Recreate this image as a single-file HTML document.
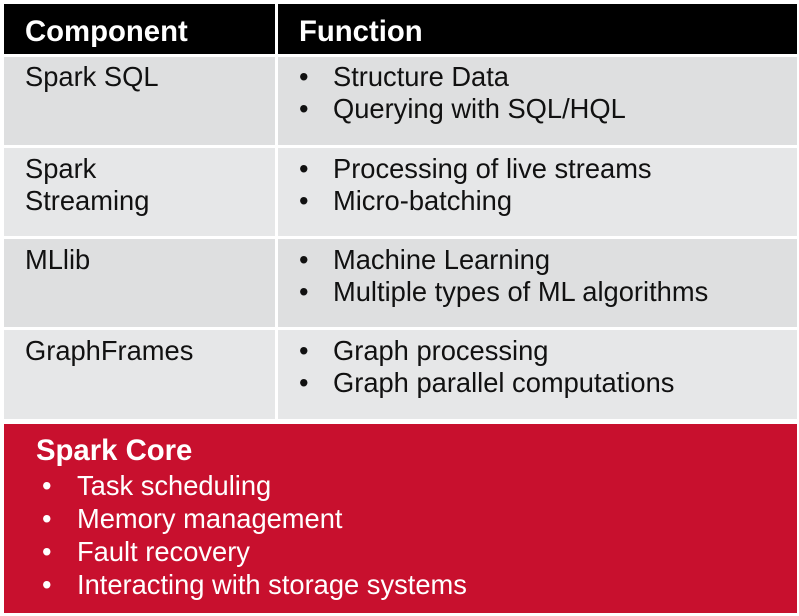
<!DOCTYPE html>
<html><head><style>
body{margin:0;width:799px;height:616px;background:#fff;position:relative;overflow:hidden;font-family:"Liberation Sans",Arial,sans-serif;}
.b{position:absolute;}
.h{background:#000;color:#fff;font-weight:bold;font-size:29.3px;line-height:50px;}
.g{background:#dedfe0;}
.t{position:absolute;font-size:27.3px;color:#111;line-height:32px;white-space:nowrap;}
.w{color:#fff;}
</style></head><body>
<div class="b h" style="left:4px;top:4px;width:271px;height:50px;"><span style="position:absolute;left:21px;top:3px">Component</span></div>
<div class="b h" style="left:278px;top:4px;width:519px;height:50px;"><span style="position:absolute;left:21px;top:3px">Function</span></div>

<div class="b g" style="left:4px;top:57px;width:271px;height:88px"></div>
<div class="b g" style="left:278px;top:57px;width:519px;height:88px"></div>
<div class="b g" style="left:4px;top:148px;width:271px;height:88px;background:#e6e7e8"></div>
<div class="b g" style="left:278px;top:148px;width:519px;height:88px;background:#e6e7e8"></div>
<div class="b g" style="left:4px;top:239px;width:271px;height:88px"></div>
<div class="b g" style="left:278px;top:239px;width:519px;height:88px"></div>
<div class="b g" style="left:4px;top:330px;width:271px;height:89px;background:#e6e7e8"></div>
<div class="b g" style="left:278px;top:330px;width:519px;height:89px;background:#e6e7e8"></div>

<div class="t" style="left:25px;top:61px">Spark SQL</div>
<div class="t" style="left:25px;top:153px">Spark<br>Streaming</div>
<div class="t" style="left:25px;top:244px">MLlib</div>
<div class="t" style="left:25px;top:335px">GraphFrames</div>

<div class="t" style="left:299px;top:61px">•<br>•</div>
<div class="t" style="left:333px;top:61px">Structure Data<br>Querying with SQL/HQL</div>
<div class="t" style="left:299px;top:153px">•<br>•</div>
<div class="t" style="left:333px;top:153px">Processing of live streams<br>Micro-batching</div>
<div class="t" style="left:299px;top:244px">•<br>•</div>
<div class="t" style="left:333px;top:244px">Machine Learning<br>Multiple types of ML algorithms</div>
<div class="t" style="left:299px;top:335px">•<br>•</div>
<div class="t" style="left:333px;top:335px">Graph processing<br>Graph parallel computations</div>

<div class="b" style="left:4px;top:424px;width:793px;height:189px;background:#c8102e"></div>
<div class="t w" style="left:36px;top:435px;font-weight:bold;font-size:29.3px">Spark Core</div>
<div class="t w" style="left:42px;top:469px;line-height:33px">•<br>•<br>•<br>•</div>
<div class="t w" style="left:77px;top:469px;line-height:33px">Task scheduling<br>Memory management<br>Fault recovery<br>Interacting with storage systems</div>
</body></html>
